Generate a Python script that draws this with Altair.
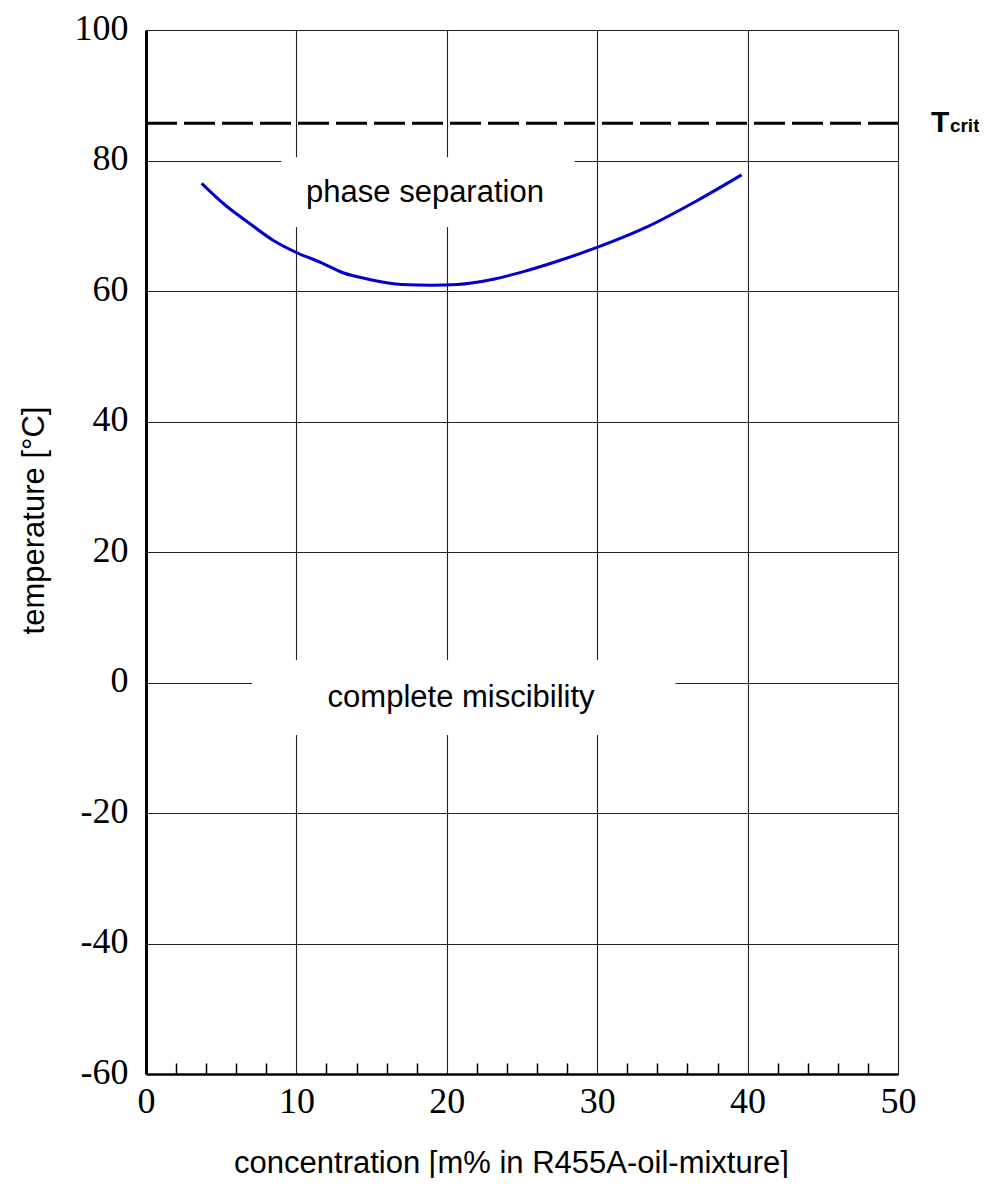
import altair as alt
import pandas as pd

# ---- data ----
conc = [3.7, 5.3, 6.8, 8.5, 10.0, 11.6, 13.1, 14.8, 17.0, 19.0, 20.7, 23.1, 25.3, 27.8, 29.9, 33.2, 36.6, 39.6]
temp = [76.5, 73.1, 70.5, 67.7, 65.9, 64.4, 62.8, 61.8, 61.0, 60.9, 61.0, 61.8, 63.1, 64.9, 66.6, 69.7, 73.8, 77.8]

t_crit = [85.7]
x_major = [0, 10, 20, 30, 40, 50]
x_minor = [2, 4, 6, 8, 12, 14, 16, 18, 22, 24, 26, 28, 32, 34, 36, 38, 42, 44, 46, 48]
y_major = [-60, -40, -20, 0, 20, 40, 60, 80, 100]

region_labels = ["phase separation", "complete miscibility"]
region_x = [18.55, 20.95]
region_y = [75.0, -2.4]
box_x1 = [9.0, 7.05]
box_x2 = [28.5, 35.2]
box_y1 = [69.8, -8.05]
box_y2 = [80.5, 3.45]

tcrit_main = ["T"]
tcrit_sub = ["crit"]
tcrit_x = [52.2]
tcrit_sub_x = [53.45]

curve_df = pd.DataFrame({"c": conc, "t": temp})
box_df = pd.DataFrame({"x1": box_x1, "x2": box_x2, "y1": box_y1, "y2": box_y2,
                       "label": region_labels, "lx": region_x, "ly": region_y})
rule_df = pd.DataFrame({"xa": [x_major[0]], "xb": [x_major[-1]], "t": t_crit})
tc_df = pd.DataFrame({"x": tcrit_x, "xs": tcrit_sub_x, "t": t_crit, "m": tcrit_main, "s": tcrit_sub})

xscale = alt.Scale(domain=[0, 50], nice=False, zero=False)
yscale = alt.Scale(domain=[-60, 100], nice=False, zero=False)

SANS = "Liberation Sans"
SERIF = "Liberation Serif"

x_axis_main = alt.Axis(
    values=x_major, grid=True, gridColor="#222222", gridWidth=1.1, gridOpacity=1,
    domain=True, domainColor="black", domainWidth=2.5,
    ticks=False, tickSize=0,
    labelFont=SERIF, labelFontSize=36, labelColor="black", labelPadding=27,
    labelBaseline="middle", labelFlush=False,
    labelExpr="'' + datum.value",
    title="concentration [m% in R455A-oil-mixture]",
    titleFont=SANS, titleFontSize=31, titleFontWeight="normal", titleColor="black",
    titleBaseline="middle", titleAlign="center", titleX=365, titleY=89,
)
x_axis_minor = alt.Axis(
    orient="top", offset=-1044, values=x_minor, grid=False, domain=False,
    labels=False, ticks=True, tickSize=11, tickWidth=1.5, tickColor="black", title=None,
)
y_axis = alt.Axis(
    values=y_major, grid=True, gridColor="#222222", gridWidth=1.1, gridOpacity=1,
    domain=True, domainColor="black", domainWidth=3,
    ticks=False, tickSize=0,
    labelFont=SERIF, labelFontSize=36, labelColor="black", labelPadding=18,
    labelBaseline="middle", labelOffset=-2, labelFlush=False,
    labelExpr="'' + datum.value",
    title="temperature [°C]",
    titleFont=SANS, titleFontSize=31, titleFontWeight="normal", titleColor="black",
    titleBaseline="middle", titleAlign="center", titleX=-112, titleY=490,
)

boxes = alt.Chart(box_df).mark_rect(fill="white", stroke=None).encode(
    x=alt.X("x1:Q", scale=xscale, axis=x_axis_minor),
    x2="x2:Q",
    y=alt.Y("y1:Q", scale=yscale, axis=y_axis),
    y2="y2:Q",
)

labels = alt.Chart(box_df).mark_text(
    font=SANS, fontSize=31, color="black", align="center", baseline="middle"
).encode(
    x=alt.X("lx:Q", scale=xscale, axis=None),
    y=alt.Y("ly:Q", scale=yscale, axis=y_axis),
    text="label:N",
)

curve = alt.Chart(curve_df).mark_line(color="#0000cc", strokeWidth=3, interpolate="monotone").encode(
    x=alt.X("c:Q", scale=xscale, axis=x_axis_main),
    y=alt.Y("t:Q", scale=yscale, axis=y_axis),
    order="c:Q",
)

rule = alt.Chart(rule_df).mark_rule(color="black", strokeWidth=3, strokeDash=[31, 7]).encode(
    x=alt.X("xa:Q", scale=xscale, axis=None),
    x2="xb:Q",
    y=alt.Y("t:Q", scale=yscale, axis=y_axis),
)

tmain = alt.Chart(tc_df).mark_text(
    font=SANS, fontSize=30, fontWeight="bold", color="black", align="left", baseline="alphabetic", dy=9
).encode(
    x=alt.X("x:Q", scale=xscale, axis=None),
    y=alt.Y("t:Q", scale=yscale, axis=y_axis),
    text="m:N",
)
tsub = alt.Chart(tc_df).mark_text(
    font=SANS, fontSize=19, fontWeight="bold", color="black", align="left", baseline="alphabetic", dy=9
).encode(
    x=alt.X("xs:Q", scale=xscale, axis=None),
    y=alt.Y("t:Q", scale=yscale, axis=y_axis),
    text="s:N",
)

chart = alt.layer(boxes, labels, curve, rule, tmain, tsub).resolve_axis(
    x="independent"
).properties(
    width=752, height=1044,
    autosize=alt.AutoSizeParams(type="none"),
    padding={"left": 138, "top": 22, "right": 81, "bottom": 104},
    background="white",
).configure_view(stroke=None)

chart.save("out.html", embed_options={"renderer": "svg", "actions": False})
